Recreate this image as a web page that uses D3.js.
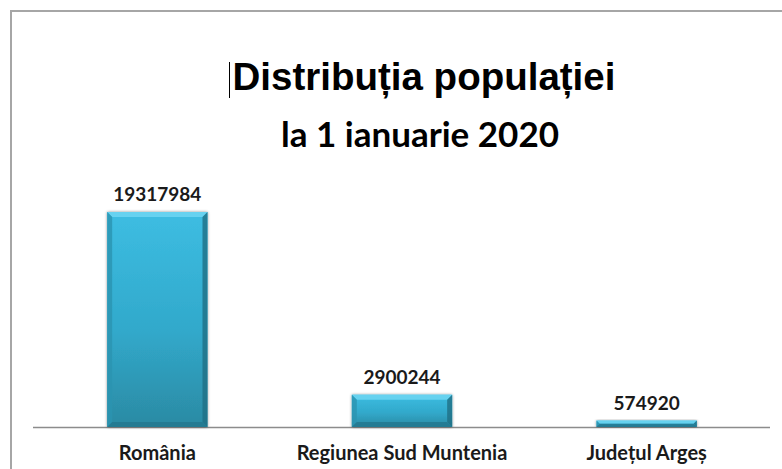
<!DOCTYPE html>
<html>
<head>
<meta charset="utf-8">
<script src="https://cdn.jsdelivr.net/npm/d3@7"></script>
<style>
  html, body { margin: 0; padding: 0; background: #fff; }
  svg { display: block; }
</style>
</head>
<body>
<svg id="chart" width="782" height="469"></svg>
<script>
const categories = ['România', 'Regiunea Sud Muntenia', 'Județul Argeș'];
const population = [19317984, 2900244, 574920];
const titleLines = ['Distribuția populației', 'la 1 ianuarie 2020'];

const svg = d3.select('#chart');
const W = 782, H = 469;
const baseline = 427;
const x = d3.scaleBand()
  .domain(categories)
  .range([35, 769])
  .paddingInner(0.59)
  .paddingOuter(0.295);
const y = d3.scaleLinear()
  .domain([0, d3.max(population)])
  .range([baseline, 212]);

const data = categories.map((c, i) => ({ name: c, value: population[i] }));

// frame of the chart area (runs off the picture on the right and bottom)
svg.append('rect')
  .attr('x', 11).attr('y', 11)
  .attr('width', W + 20).attr('height', H + 20)
  .attr('fill', '#fff')
  .attr('stroke', '#a6a6a6')
  .attr('stroke-width', 2);

const defs = svg.append('defs');
const grad = defs.append('linearGradient')
  .attr('id', 'barFill')
  .attr('x1', 0).attr('y1', 0).attr('x2', 0).attr('y2', 1);
grad.append('stop').attr('offset', '0%').attr('stop-color', '#3dbde2');
grad.append('stop').attr('offset', '55%').attr('stop-color', '#31a9cb');
grad.append('stop').attr('offset', '100%').attr('stop-color', '#2b8aa3');

const shadow = defs.append('filter').attr('id', 'shadow')
  .attr('x', '-10%').attr('y', '-10%').attr('width', '120%').attr('height', '120%');
shadow.append('feGaussianBlur').attr('in', 'SourceAlpha').attr('stdDeviation', 1.5);
shadow.append('feOffset').attr('dx', 0).attr('dy', 0).attr('result', 'blur');
shadow.append('feComponentTransfer').append('feFuncA').attr('type', 'linear').attr('slope', 0.45);
const merge = shadow.append('feMerge');
merge.append('feMergeNode');
merge.append('feMergeNode').attr('in', 'SourceGraphic');

// axis line
svg.append('line')
  .attr('x1', 33).attr('x2', 770)
  .attr('y1', baseline + 0.5).attr('y2', baseline + 0.5)
  .attr('stroke', '#8c8c8c')
  .attr('stroke-width', 1.5);

const bars = svg.append('g').selectAll('g.bar')
  .data(data)
  .join('g')
  .attr('class', 'bar');

bars.append('rect')
  .attr('x', d => x(d.name))
  .attr('y', d => y(d.value))
  .attr('width', x.bandwidth())
  .attr('height', d => baseline - y(d.value))
  .attr('fill', 'url(#barFill)')
  .attr('filter', 'url(#shadow)');

// bevel edges
bars.each(function (d) {
  const g = d3.select(this);
  const x0 = x(d.name), x1 = x0 + x.bandwidth();
  const y0 = y(d.value), y1 = baseline;
  const b = Math.min(5, (y1 - y0) / 2);
  g.append('path')
    .attr('d', `M${x0},${y0}L${x1},${y0}L${x1 - b},${y0 + b}L${x0 + b},${y0 + b}Z`)
    .attr('fill', '#6fd6f2').attr('opacity', 0.85);
  g.append('path')
    .attr('d', `M${x0},${y0}L${x0 + b},${y0 + b}L${x0 + b},${y1 - b}L${x0},${y1}Z`)
    .attr('fill', '#2a93b0').attr('opacity', 0.8);
  g.append('path')
    .attr('d', `M${x1},${y0}L${x1 - b},${y0 + b}L${x1 - b},${y1 - b}L${x1},${y1}Z`)
    .attr('fill', '#1f6f85').attr('opacity', 0.8);
  g.append('path')
    .attr('d', `M${x0},${y1}L${x0 + b},${y1 - b}L${x1 - b},${y1 - b}L${x1},${y1}Z`)
    .attr('fill', '#23788f').attr('opacity', 0.85);
});

// value labels
svg.append('g').selectAll('text')
  .data(data)
  .join('text')
  .attr('x', d => x(d.name) + x.bandwidth() / 2)
  .attr('y', d => y(d.value) - 11)
  .attr('text-anchor', 'middle')
  .attr('font-family', 'Lato, sans-serif')
  .attr('font-weight', 'bold')
  .attr('font-size', 19)
  .attr('fill', '#1a1a1a')
  .text(d => d.value);

// category labels
svg.append('g').selectAll('text')
  .data(data)
  .join('text')
  .attr('x', d => x(d.name) + x.bandwidth() / 2)
  .attr('y', 460)
  .attr('text-anchor', 'middle')
  .attr('font-family', 'Lato, sans-serif')
  .attr('font-weight', 'bold')
  .attr('font-size', 20)
  .attr('fill', '#1a1a1a')
  .text(d => d.name);

// title
svg.append('line')
  .attr('x1', 229.5).attr('x2', 229.5)
  .attr('y1', 62).attr('y2', 98)
  .attr('stroke', '#000').attr('stroke-width', 1);

svg.append('text')
  .attr('x', 424).attr('y', 90)
  .attr('text-anchor', 'middle')
  .attr('font-family', '"Liberation Sans", Arial, sans-serif')
  .attr('font-weight', 'bold')
  .attr('font-size', 38.5)
  .attr('fill', '#000')
  .text(titleLines[0]);

svg.append('text')
  .attr('x', 420).attr('y', 147)
  .attr('text-anchor', 'middle')
  .attr('font-family', 'Lato, sans-serif')
  .attr('font-weight', 'bold')
  .attr('font-size', 35)
  .attr('fill', '#000')
  .text(titleLines[1]);
</script>
</body>
</html>
